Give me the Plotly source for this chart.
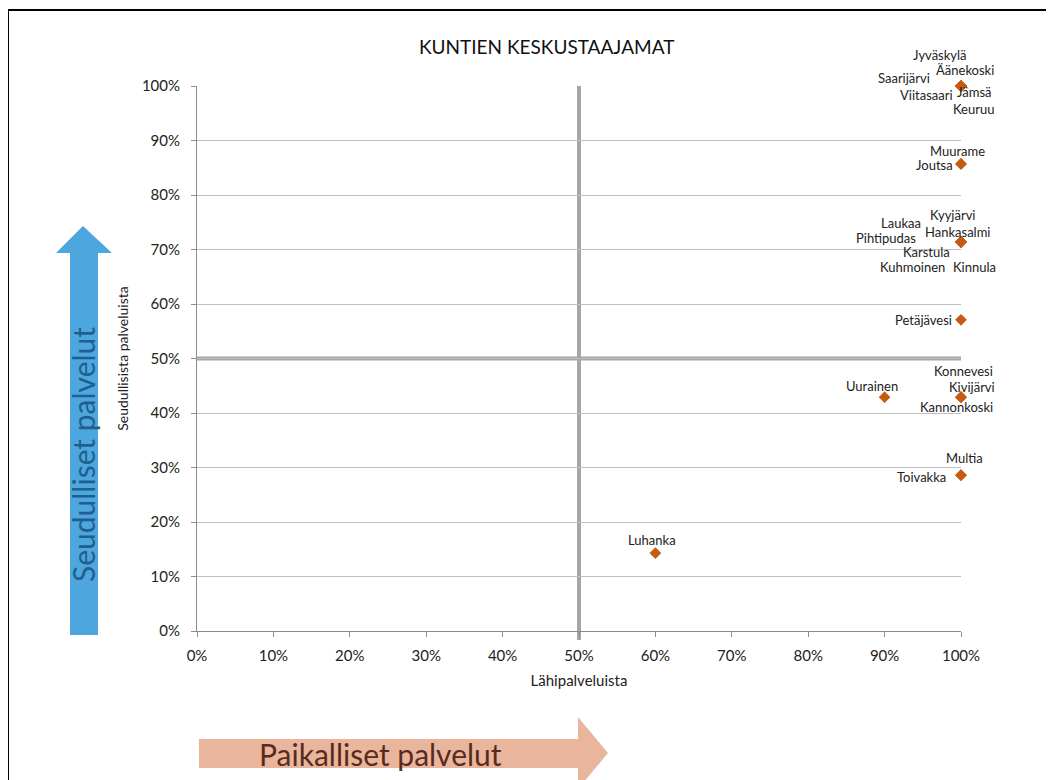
import plotly.graph_objects as go

# ---------------- data ----------------
names = ["Jyväskylä", "Äänekoski", "Saarijärvi", "Viitasaari", "Jämsä", "Keuruu",
         "Muurame", "Joutsa",
         "Kyyjärvi", "Laukaa", "Hankasalmi", "Pihtipudas", "Karstula", "Kuhmoinen", "Kinnula",
         "Petäjävesi",
         "Konnevesi", "Kivijärvi", "Kannonkoski",
         "Uurainen",
         "Multia", "Toivakka",
         "Luhanka"]
local_services = [1.0, 1.0, 1.0, 1.0, 1.0, 1.0,
                  1.0, 1.0,
                  1.0, 1.0, 1.0, 1.0, 1.0, 1.0, 1.0,
                  1.0,
                  1.0, 1.0, 1.0,
                  0.9,
                  1.0, 1.0,
                  0.6]
regional_services = [1.0, 1.0, 1.0, 1.0, 1.0, 1.0,
                     0.857, 0.857,
                     0.714, 0.714, 0.714, 0.714, 0.714, 0.714, 0.714,
                     0.571,
                     0.429, 0.429, 0.429,
                     0.429,
                     0.286, 0.286,
                     0.143]
tick_vals = [0, 0.1, 0.2, 0.3, 0.4, 0.5, 0.6, 0.7, 0.8, 0.9, 1.0]
tick_text = ["0%", "10%", "20%", "30%", "40%", "50%", "60%", "70%", "80%", "90%", "100%"]

# label offsets from the marker (pixels: dx right, dy down) - layout only
label_offsets = [(-21, -31), (4, -16), (-57, -8), (-35, 9), (13, 6), (12, 23),
                 (-4, -13), (-27, 1),
                 (-9, -27), (-60, -19), (-4, -10), (-75, -4), (-35, 10), (-49, 25), (13, 25),
                 (-38, 0),
                 (2, -26), (11, -10), (-5, 10),
                 (-13, -11),
                 (3, -17), (-40, 2),
                 (-3, -13)]

# ---------------- layout geometry (page coords; body has 8px margin) ----------------
OFF = 8
W, H = 1054 - OFF, 780 - OFF
L, R, T, B = 197 - OFF, 961 - OFF, 86 - OFF, 631 - OFF
FONT = "Lato, 'Open Sans', sans-serif"


def px(x):
    return (x - OFF - L) / (R - L)


def py(y):
    return (B - (y - OFF)) / (B - T)


def path(points):
    return "M " + " L ".join(f"{px(a):.5f},{py(b):.5f}" for a, b in points) + " Z"


fig = go.Figure()
fig.add_trace(go.Scatter(
    x=local_services, y=regional_services, mode="markers",
    marker=dict(symbol="diamond", size=9, color="#c55a11"),
    cliponaxis=False, hoverinfo="text", text=names, showlegend=False))

annotations = []
for n, xv, yv, (dx, dy) in zip(names, local_services, regional_services, label_offsets):
    annotations.append(dict(x=xv, y=yv, xref="x", yref="y", text=n, showarrow=False,
                            xanchor="center", yanchor="middle",
                            xshift=dx, yshift=-dy,
                            font=dict(family=FONT, size=13, color="#222222")))

annotations += [
    dict(x=px(546), y=py(47), xref="paper", yref="paper", text="KUNTIEN KESKUSTAAJAMAT",
         showarrow=False, xanchor="center", yanchor="middle",
         font=dict(family=FONT, size=19, color="#111111")),
    dict(x=px(83), y=py(455), xref="paper", yref="paper", text="Seudulliset palvelut",
         showarrow=False, textangle=-90, xanchor="center", yanchor="middle",
         font=dict(family=FONT, size=30, color="#1f5f8f")),
    dict(x=px(380), y=py(754), xref="paper", yref="paper", text="Paikalliset palvelut",
         showarrow=False, xanchor="center", yanchor="middle",
         font=dict(family=FONT, size=30, color="#5a2b1c")),
]

shapes = [
    # thick 50% reference lines
    dict(type="line", xref="x", yref="paper", x0=0.5, x1=0.5, y0=py(640), y1=1.0,
         line=dict(color="#a6a6a6", width=4), layer="between"),
    dict(type="line", xref="paper", yref="y", x0=0, x1=1, y0=0.5, y1=0.5,
         line=dict(color="#a6a6a6", width=4), layer="between"),
    # decorative arrows
    dict(type="path", xref="paper", yref="paper",
         path=path([(70, 635), (70, 253), (56, 253), (83, 226), (112, 253), (98, 253), (98, 635)]),
         fillcolor="#4ea6de", line=dict(width=0), layer="below"),
    dict(type="path", xref="paper", yref="paper",
         path=path([(199, 739), (578, 739), (578, 717), (608, 753), (578, 789), (578, 768), (199, 768)]),
         fillcolor="#e9b69d", line=dict(width=0), layer="below"),
    # outer frame
    dict(type="line", xref="paper", yref="paper", x0=px(8), x1=px(1070), y0=py(10), y1=py(10),
         line=dict(color="black", width=2)),
    dict(type="line", xref="paper", yref="paper", x0=px(8), x1=px(8), y0=py(10), y1=py(800),
         line=dict(color="black", width=2)),
]

fig.update_layout(
    width=W, height=H,
    margin=dict(l=L, r=W - R, t=T, b=H - B, pad=0),
    paper_bgcolor="white", plot_bgcolor="white",
    font=dict(family=FONT, size=13, color="#222222"),
    annotations=annotations, shapes=shapes,
    xaxis=dict(range=[0, 1], tickvals=tick_vals, ticktext=tick_text,
               showgrid=False, zeroline=False, showline=True, linecolor="#8c8c8c", linewidth=1,
               ticks="outside", ticklen=5, tickcolor="#8c8c8c", ticklabelstandoff=6,
               tickfont=dict(family=FONT, size=15, color="#222222"),
               title=dict(text="Lähipalveluista", font=dict(family=FONT, size=15, color="#222222"),
                          standoff=12)),
    yaxis=dict(range=[0, 1], tickvals=tick_vals, ticktext=tick_text,
               showgrid=True, gridcolor="#bfbfbf", gridwidth=1,
               zeroline=False, showline=True, linecolor="#8c8c8c", linewidth=1,
               ticks="outside", ticklen=5, tickcolor="#8c8c8c", ticklabelstandoff=8,
               tickfont=dict(family=FONT, size=15, color="#222222"),
               title=dict(text="Seudullisista palveluista",
                          font=dict(family=FONT, size=14, color="#222222"), standoff=9)),
)

fig.write_html("out.html")
